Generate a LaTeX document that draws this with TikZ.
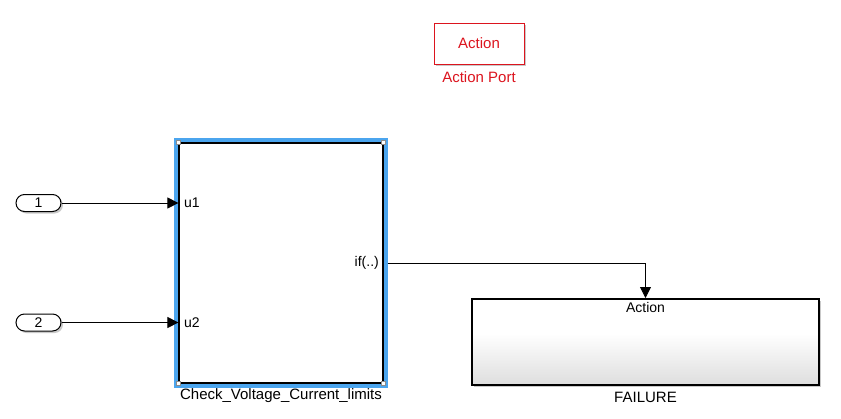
\documentclass[tikz,border=0pt]{standalone}
\usepackage{fontspec}
\setmainfont{Liberation Sans}
\usetikzlibrary{arrows.meta,shadows,calc}
\definecolor{slred}{RGB}{220,20,30}
\definecolor{slblue}{RGB}{75,165,238}
\pgfdeclareverticalshading{failshade}{100bp}{color(0bp)=(black!13); color(25bp)=(black!13); color(55bp)=(white); color(100bp)=(white)}
\tikzset{
  lbl/.style={font=\fontsize{15}{17}\selectfont, inner sep=0pt},
  plbl/.style={font=\fontsize{14}{16}\selectfont, inner sep=0pt},
  shad/.style={drop shadow={shadow xshift=2pt, shadow yshift=-2pt, opacity=.35, fill=black!60}},
  actbox/.style={draw=slred, line width=1pt, fill=white, minimum width=90pt, minimum height=41pt, inner sep=0pt, text=slred, font=\fontsize{15}{17}\selectfont, shad},
  inport/.style={draw=black, line width=1pt, fill=white, rounded corners=8.5pt, minimum width=45pt, minimum height=17pt, inner sep=0pt, font=\fontsize{14}{16}\selectfont, shad},
  subbox/.style={draw=black, line width=1.2pt, fill=white, minimum width=204pt, minimum height=240pt, inner sep=0pt},
  failbox/.style={draw=black, line width=2pt, shading=failshade, minimum width=347pt, minimum height=86pt, inner sep=0pt, shad},
  sig/.style={draw=black, line width=0.8pt, -{Triangle[length=11pt,width=11pt]}},
  handle/.style={draw=black!45, fill=white, line width=0.6pt, minimum size=4pt, inner sep=0pt}
}
\begin{document}
\begin{tikzpicture}[x=1pt,y=-1pt]
\useasboundingbox[fill=white] (0,0) rectangle (841,418);
% Action port
\node[actbox] (act) at (479,43.5) {Action};
\node[lbl, text=slred] (actlbl) at (479,77) {Action Port};
% Subsystem
\draw[slblue, line width=5.5pt] (176.5,140.5) rectangle (385.5,385.5);
\node[subbox] (sub) at (281,263) {};
\foreach \c in {north west, north east, south west, south east}
  \node[handle] at (sub.\c) {};
\node[lbl] (sublbl) at (281,396) {Check\_Voltage\_Current\_limits};
\node[plbl, anchor=west] (u1) at (184,203) {u1};
\node[plbl, anchor=west] (u2) at (184,323) {u2};
\node[plbl, anchor=east] (ifl) at (379,263) {if(..)};
% Inports
\node[inport] (in1) at (38.5,203) {1};
\node[inport] (in2) at (38.5,322.5) {2};
% Failure
\node[failbox] (fail) at (645.5,342) {};
\node[plbl, anchor=north] (factl) at ($(fail.north)+(0,4)$) {Action};
\node[lbl] (faillbl) at (645.5,397) {FAILURE};
% connectors
\coordinate (ifout) at ($(sub.east)+(4,0)$);
\draw[sig] (in1.east) -- (sub.west |- in1.east);
\draw[sig] (in2.east) -- (sub.west |- in2.east);
\draw[sig] (ifout) -| (fail.north);
\end{tikzpicture}
\end{document}
